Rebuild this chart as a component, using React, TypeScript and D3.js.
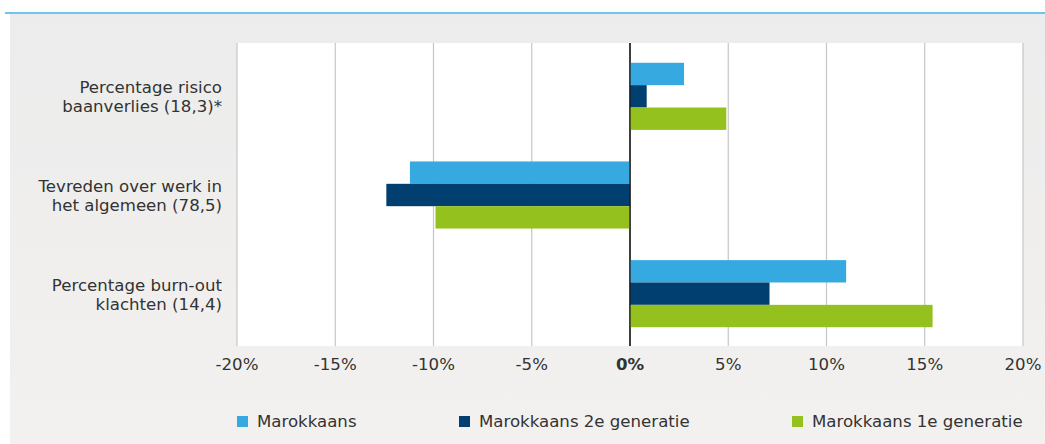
import * as d3 from 'd3';

const categories = [
  'Percentage risico baanverlies (18,3)*',
  'Tevreden over werk in het algemeen (78,5)',
  'Percentage burn-out klachten (14,4)',
];
const categoryLines = [
  ['Percentage risico', 'baanverlies (18,3)*'],
  ['Tevreden over werk in', 'het algemeen (78,5)'],
  ['Percentage burn-out', 'klachten (14,4)'],
];
const seriesNames = ['Marokkaans', 'Marokkaans 2e generatie', 'Marokkaans 1e generatie'];
const marokkaans = [2.75, -11.2, 11.0];
const tweedeGeneratie = [0.85, -12.4, 7.1];
const eersteGeneratie = [4.9, -9.9, 15.4];
const xTicks = [-20, -15, -10, -5, 0, 5, 10, 15, 20];

const COLORS = ['#36a9e1', '#003f6f', '#95c11f'];
const FONT = '"DejaVu Sans", "Liberation Sans", Arial, sans-serif';
const TEXT = '#333333';
const FS = 16.6;

const W = 1045;
const H = 444;
const plot = { left: 237, right: 1023, top: 43, bottom: 346 };

export default function App() {
  const series = [marokkaans, tweedeGeneratie, eersteGeneratie];

  const x = d3.scaleLinear().domain([-20, 20]).range([plot.left, plot.right]);
  const y = d3.scaleBand<string>()
    .domain(categories)
    .range([plot.top + 4, plot.bottom - 3])
    .paddingInner(0.32)
    .paddingOuter(0.16);
  const ySub = d3.scaleBand<number>()
    .domain(d3.range(seriesNames.length))
    .range([0, y.bandwidth()]);

  const legendX = [237, 459, 792];

  return (
    <svg width={W} height={H} style={{ position: 'absolute', left: 0, top: 0 }} fontFamily={FONT}>
      <defs>
        <linearGradient id="bg" x1="0" y1="0" x2="0" y2="1">
          <stop offset="0%" stopColor="#ececec" />
          <stop offset="100%" stopColor="#f3f1ef" />
        </linearGradient>
      </defs>
      <rect x={10} y={14} width={W - 10} height={H - 14} fill="url(#bg)" />
      <line x1={5} x2={W} y1={13} y2={13} stroke="#70c6ea" strokeWidth={2} />

      {/* plot area */}
      <rect x={plot.left} y={plot.top} width={plot.right - plot.left} height={plot.bottom - plot.top} fill="#ffffff" />

      {xTicks.map((t) => (
        <line
          key={t}
          x1={x(t)}
          x2={x(t)}
          y1={plot.top}
          y2={plot.bottom}
          stroke={t === 0 ? '#1a1a1a' : '#c6c6c6'}
          strokeWidth={1.2}
        />
      ))}

      {categories.map((c, ci) => (
        <g key={c} transform={`translate(0,${y(c)})`}>
          {series.map((vals, si) => {
            const v = vals[ci];
            return (
              <rect
                key={si}
                x={Math.min(x(0), x(v))}
                y={ySub(si)}
                width={Math.abs(x(v) - x(0))}
                height={ySub.bandwidth()}
                fill={COLORS[si]}
              />
            );
          })}
        </g>
      ))}

      {/* redraw zero line over bars */}
      <line x1={x(0)} x2={x(0)} y1={plot.top} y2={plot.bottom} stroke="#1a1a1a" strokeWidth={1.2} />

      {/* category labels */}
      {categories.map((c, ci) => {
        const cy = (y(c) ?? 0) + y.bandwidth() / 2;
        return (
          <text key={c} x={222} y={cy - 3} textAnchor="end" fontSize={FS} fill={TEXT}>
            <tspan x={222}>{categoryLines[ci][0]}</tspan>
            <tspan x={222} dy={19}>{categoryLines[ci][1]}</tspan>
          </text>
        );
      })}

      {/* x tick labels */}
      {xTicks.map((t) => (
        <text
          key={t}
          x={x(t)}
          y={370}
          textAnchor="middle"
          fontSize={FS}
          fontWeight={t === 0 ? 'bold' : 'normal'}
          fill={TEXT}
        >
          {`${t}%`}
        </text>
      ))}

      {/* legend */}
      {seriesNames.map((name, i) => (
        <g key={name} transform={`translate(${legendX[i]},0)`}>
          <rect x={0} y={416} width={11} height={11} fill={COLORS[i]} />
          <text x={20} y={427} fontSize={FS} fill={TEXT}>{name}</text>
        </g>
      ))}
    </svg>
  );
}
